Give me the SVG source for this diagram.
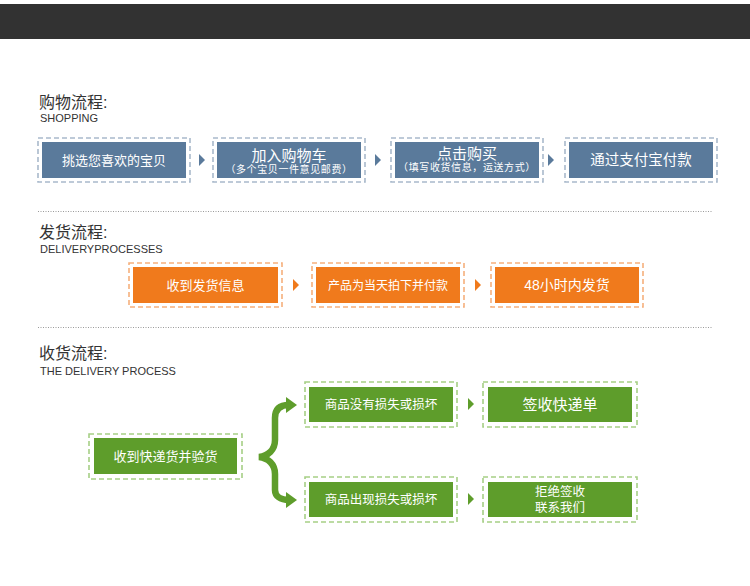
<svg xmlns="http://www.w3.org/2000/svg" width="750" height="586" viewBox="0 0 750 586">
<style>
.title{font-family:"Liberation Sans","Noto Sans CJK SC",sans-serif;font-size:16px;fill:#333}
.sub{font-family:"Liberation Sans","Noto Sans CJK SC",sans-serif;font-size:11px;fill:#333}
.t{font-family:"Liberation Sans","Noto Sans CJK SC",sans-serif;fill:#fff;text-anchor:middle}
.ob{fill:none;stroke-width:1.6;stroke-dasharray:5 3}
.bl .ob{stroke:#a9b9cb}.bl .in{fill:#5a7a9b}
.or .ob{stroke:#f6b07c}.or .in{fill:#f07a1c}
.gr .ob{stroke:#a6cf85}.gr .in{fill:#5e9d2b}
.sep{stroke:#9a9a9a;stroke-width:1;stroke-dasharray:1 1.5}
</style>
<rect x="0" y="4" width="750" height="35" fill="#323232"/>

<text class="title" x="39" y="108">购物流程:</text>
<text class="sub" x="40" y="122">SHOPPING</text>
<line class="sep" x1="38" y1="211.5" x2="713" y2="211.5"/>
<text class="title" x="39" y="238">发货流程:</text>
<text class="sub" x="40" y="253">DELIVERYPROCESSES</text>
<line class="sep" x1="38" y1="327.5" x2="713" y2="327.5"/>
<text class="title" x="39" y="359">收货流程:</text>
<text class="sub" x="40" y="375">THE DELIVERY PROCESS</text>

<g id="s1" class="bl"><rect class="ob" x="38" y="138" width="152" height="44"/><rect class="in" x="42" y="142" width="144" height="36"/><text class="t" x="114" y="165" font-size="13">挑选您喜欢的宝贝</text></g>
<g id="s2" class="bl"><rect class="ob" x="213" y="138" width="152" height="44"/><rect class="in" x="217" y="142" width="144" height="36"/><text class="t" x="289" y="161" font-size="15">加入购物车</text><text class="t" x="289" y="173" font-size="10" letter-spacing="0.6">（多个宝贝一件意见邮费）</text></g>
<g id="s3" class="bl"><rect class="ob" x="391" y="138" width="152" height="44"/><rect class="in" x="395" y="142" width="144" height="36"/><text class="t" x="467" y="159" font-size="15">点击购买</text><text class="t" x="467" y="171" font-size="10" letter-spacing="0.6">（填写收货信息，运送方式）</text></g>
<g id="s4" class="bl"><rect class="ob" x="565" y="138" width="152" height="44"/><rect class="in" x="569" y="142" width="144" height="36"/><text class="t" x="641" y="165" font-size="14.5">通过支付宝付款</text></g>

<g id="d1" class="or"><rect class="ob" x="129" y="263" width="153" height="44"/><rect class="in" x="133" y="267" width="145" height="36"/><text class="t" x="205.500" y="290" font-size="13">收到发货信息</text></g>
<g id="d2" class="or"><rect class="ob" x="312" y="263" width="152" height="44"/><rect class="in" x="316" y="267" width="144" height="36"/><text class="t" x="388" y="290" font-size="12">产品为当天拍下并付款</text></g>
<g id="d3" class="or"><rect class="ob" x="491" y="263" width="152" height="44"/><rect class="in" x="495" y="267" width="144" height="36"/><text class="t" x="567" y="290" font-size="14">48小时内发货</text></g>

<g id="r1" class="gr"><rect class="ob" x="89" y="434" width="153" height="45"/><rect class="in" x="94" y="438" width="143" height="36"/><text class="t" x="165.500" y="461" font-size="13">收到快递货并验货</text></g>
<g id="r2" class="gr"><rect class="ob" x="305" y="382" width="152" height="45"/><rect class="in" x="309" y="387" width="144" height="35"/><text class="t" x="381" y="409" font-size="12.500">商品没有损失或损坏</text></g>
<g id="r3" class="gr"><rect class="ob" x="483" y="382" width="154" height="45"/><rect class="in" x="488" y="387" width="144" height="35"/><text class="t" x="560" y="410" font-size="15">签收快递单</text></g>
<g id="r4" class="gr"><rect class="ob" x="305" y="477" width="152" height="45"/><rect class="in" x="309" y="482" width="144" height="35"/><text class="t" x="381" y="504" font-size="12.500">商品出现损失或损坏</text></g>
<g id="r5" class="gr"><rect class="ob" x="483" y="477" width="154" height="45"/><rect class="in" x="488" y="482" width="144" height="35"/><text class="t" x="560" y="496" font-size="12.500">拒绝签收</text><text class="t" x="560" y="512" font-size="12.500">联系我们</text></g>

<g id="connectors">
<polygon points="199,154 205,160 199,166" fill="#5a7a9b"/>
<polygon points="375,154 381,160 375,166" fill="#5a7a9b"/>
<polygon points="548,154 554,160 548,166" fill="#5a7a9b"/>
<polygon points="293,279 299,285 293,291" fill="#f07a1c"/>
<polygon points="475,279 481,285 475,291" fill="#f07a1c"/>
<polygon points="468,398 474,404 468,410" fill="#5e9d2b"/>
<polygon points="468,493 474,499 468,505" fill="#5e9d2b"/>
<path d="M289 405 C280 405 275 409 275 418 L275 440 C275 450 268 456 259 457 C268 458 275 464 275 474 L275 490 C275 496 280 500 289 500" fill="none" stroke="#5e9d2b" stroke-width="6.500" stroke-linejoin="miter"/>
<polygon points="286,397 297,405 286,413" fill="#5e9d2b"/>
<polygon points="286,492 297,500 286,508" fill="#5e9d2b"/>
</g>
</svg>
